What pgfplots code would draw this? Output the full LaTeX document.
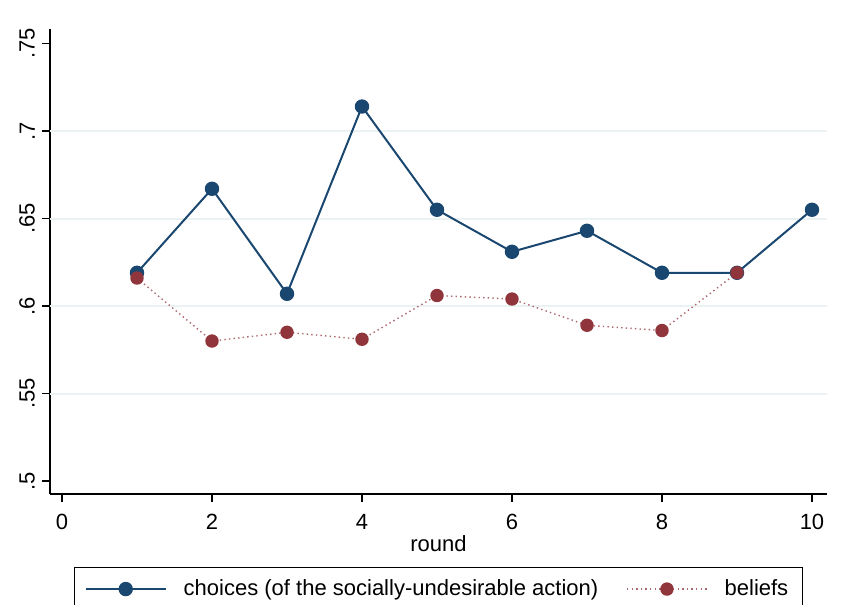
\documentclass[border=0pt]{standalone}
\usepackage{fontspec}
\setmainfont{Liberation Sans}
\usepackage{pgfplots}
\pgfplotsset{compat=1.18}
\definecolor{snavy}{HTML}{1A476F}
\definecolor{smaroon}{HTML}{90353B}
\definecolor{gridc}{HTML}{EAF2F3}
\begin{document}
\begin{tikzpicture}
\begin{axis}[
  at={(0,0)}, anchor=south west,
  scale only axis, width=388.5pt, height=232.5pt,
  xmin=-0.16, xmax=10.2, ymin=0.4926, ymax=0.7583,
  axis x line*=bottom, axis y line*=left,
  axis line style={black, line width=0.7pt, -},
  tick align=outside, major tick length=4pt,
  tick style={black, line width=0.6pt},
  xtick={0,2,4,6,8,10}, xticklabels={0,2,4,6,8,10},
  xticklabel style={yshift=-2.5pt},
  ytick={0.5,0.55,0.6,0.65,0.7,0.75}, yticklabels={.5,.55,.6,.65,.7,.75},
  yticklabel style={rotate=90, anchor=south},
  ticklabel style={font=\fontsize{11}{13}\selectfont},
  extra y ticks={0.55,0.6,0.65,0.7}, extra y tick labels={},
  extra y tick style={grid=major, major tick length=0pt, major grid style={gridc, line width=1pt}},
  xlabel={round}, xlabel style={font=\fontsize{11}{13}\selectfont, yshift=4pt},
  legend columns=2,
  legend style={at={(0.5,0)}, anchor=north, yshift=-36.5pt, draw=black, line width=0.6pt,
    font=\fontsize{11}{13}\selectfont, inner xsep=5pt, inner ysep=4pt,
    /tikz/every odd column/.append style={column sep=6.5pt},
    /tikz/every even column/.append style={column sep=12pt}},
  legend cell align=left,
  legend image code/.code={\draw[#1, mark repeat=2, mark phase=2] plot coordinates {(0pt,0pt) (20pt,0pt) (40pt,0pt)};},
  clip=false,
]
\addplot[snavy, line width=1pt, mark=*, mark size=3.1pt, mark options={solid, fill=snavy, draw=snavy}] coordinates {
(1,0.619) (2,0.667) (3,0.607) (4,0.714) (5,0.655) (6,0.631) (7,0.643) (8,0.619) (9,0.619) (10,0.655)};
\addlegendentry{choices (of the socially-undesirable action)}
\addplot[smaroon!75, line width=0.7pt, dash pattern=on 0.7pt off 1.6pt, mark=*, mark size=3pt, mark options={solid, fill=smaroon, draw=smaroon}] coordinates {
(1,0.616) (2,0.580) (3,0.585) (4,0.581) (5,0.606) (6,0.604) (7,0.589) (8,0.586) (9,0.619)};
\addlegendentry{beliefs}
\end{axis}
\pgfresetboundingbox
\useasboundingbox (-25pt,-55.5pt) rectangle (396.5pt,247pt);
\end{tikzpicture}
\end{document}
